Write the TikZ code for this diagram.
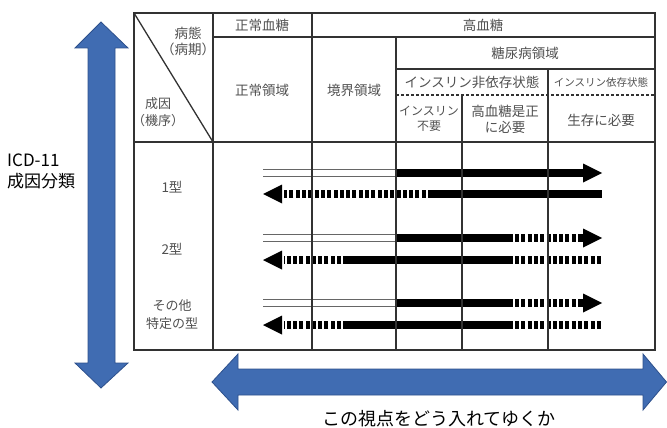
\documentclass[tikz,border=0pt]{standalone}
\usepackage{fontspec}
\setmainfont{Noto Sans CJK JP}
\usetikzlibrary{arrows.meta}
\definecolor{gridline}{RGB}{50,50,50}
\definecolor{celltext}{RGB}{80,80,80}
\definecolor{bluefill}{RGB}{64,108,178}
\definecolor{blueedge}{RGB}{45,80,140}
\tikzset{
  grid/.style={draw=gridline,line width=1.3pt},
  cell/.style={text=celltext,font=\fontsize{13.5}{16}\selectfont,align=center,inner sep=0pt},
  sidetext/.style={text=black,inner sep=0pt},
  bluearrow/.style={draw=blueedge,fill=bluefill,line width=0.8pt,line join=miter},
  openbar/.style={draw=gray!80!black,double=white,double distance=6pt,line width=1.2pt},
  solidbar/.style={draw=black,line width=8pt},
  dashbar/.style={draw=black,line width=8pt,dash pattern=on 4pt off 2.3pt},
  tip/.style={-{Triangle[length=19pt 0,width=19pt 0,line width=0pt 0]}}
}
\begin{document}
\begin{tikzpicture}[x=1pt,y=-1pt]
\useasboundingbox (0,0) rectangle (667,428);

\filldraw[bluearrow] (101,22) -- (128,48) -- (115,48) -- (115,363) -- (128,363) -- (101,388) -- (75,363) -- (88,363) -- (88,48) -- (75,48) -- cycle;
\filldraw[bluearrow] (212,382) -- (238,354) -- (238,369) -- (643,369) -- (643,354) -- (666.5,382) -- (643,410) -- (643,395) -- (238,395) -- (238,410) -- cycle;

\node[sidetext,anchor=west,align=left,font=\fontsize{17}{21}\selectfont] (icd) at (7,171) {ICD-11\\成因分類};
\node[sidetext,font=\fontsize{18}{20}\selectfont] (shiten) at (439,419) {この視点をどう入れてゆくか};

\draw[openbar] (263,173) -- (395,173);
\draw[solidbar,tip] (395,173) -- (602,173);
\draw[solidbar] (432,194) -- (602,194);
\draw[dashbar] (432,194) -- (284,194);
\draw[solidbar,tip] (282,194) -- (263,194);

\draw[openbar] (263,238) -- (395,238);
\draw[solidbar] (395,238) -- (513,238);
\draw[dashbar] (515,238) -- (584,238);
\draw[solidbar,tip] (582,238) -- (602,238);
\draw[dashbar] (515,260) -- (602,260);
\draw[solidbar] (343,260) -- (513,260);
\draw[dashbar] (341,260) -- (284,260);
\draw[solidbar,tip] (282,260) -- (263,260);

\draw[openbar] (263,303) -- (395,303);
\draw[solidbar] (395,303) -- (513,303);
\draw[dashbar] (515,303) -- (584,303);
\draw[solidbar,tip] (582,303) -- (602,303);
\draw[dashbar] (515,325) -- (602,325);
\draw[solidbar] (343,325) -- (513,325);
\draw[dashbar] (341,325) -- (284,325);
\draw[solidbar,tip] (282,325) -- (263,325);

\draw[grid] (134,13) rectangle (655,350);
\draw[grid] (134,142) -- (655,142);
\draw[grid] (213,37) -- (655,37);
\draw[grid] (396,69) -- (655,69);
\draw[grid] (213,13) -- (213,350);
\draw[grid] (312,13) -- (312,350);
\draw[grid] (396,37) -- (396,350);
\draw[grid] (548,69) -- (548,350);
\draw[grid] (462,95) -- (462,350);
\draw[grid] (134,13) -- (213,142);
\draw[grid,line width=1.1pt,dash pattern=on 3pt off 2pt] (396,95) -- (655,95);

\node[cell] (byotai) at (188,41) {病態\\（病期）};
\node[cell,font=\fontsize{13}{17}\selectfont] (seiin) at (158,112) {成因\\（機序）};
\node[cell] (seijoketto) at (262,25) {正常血糖};
\node[cell] (koketto) at (483,25) {高血糖};
\node[cell] (seijoryoiki) at (262,90) {正常領域};
\node[cell] (kyokai) at (354,90) {境界領域};
\node[cell] (tonyobyo) at (525,53) {糖尿病領域};
\node[cell] (hiizon) at (472,82) {インスリン非依存状態};
\node[cell,font=\fontsize{10.5}{12}\selectfont] (izon) at (601,82) {インスリン依存状態};
\node[cell,font=\fontsize{12}{15}\selectfont] (fuyo) at (429,119) {インスリン\\不要};
\node[cell] (zesei) at (505,119) {高血糖是正\\に必要};
\node[cell] (seizon) at (601,120) {生存に必要};
\node[cell] (type1) at (172,187) {1型};
\node[cell] (type2) at (172,249) {2型};
\node[cell,font=\fontsize{13}{18}\selectfont] (typeother) at (172,315) {その他\\特定の型};
\end{tikzpicture}
\end{document}
